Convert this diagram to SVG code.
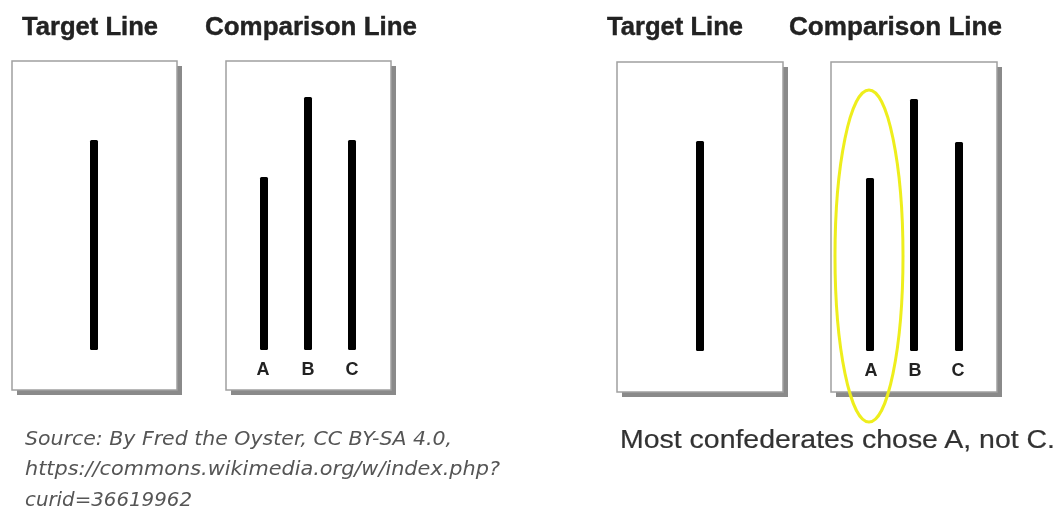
<svg xmlns="http://www.w3.org/2000/svg" width="1060" height="512" viewBox="0 0 1060 512">
  <style>
    .title { font-family: "Liberation Sans", Arial, sans-serif; font-weight: bold; font-size: 25px; fill: #222; stroke: #222; stroke-width: 0.4; }
    .lbl { font-family: "Liberation Sans", Arial, sans-serif; font-weight: bold; font-size: 18px; fill: #222; text-anchor: middle; }
    .src { font-family: "DejaVu Sans", Verdana, sans-serif; font-style: italic; font-size: 19px; fill: #555; }
    .cap { font-family: "Liberation Sans", Arial, sans-serif; font-size: 25px; fill: #333; stroke: #333; stroke-width: 0.2; }
    .card { fill: #fff; stroke: #a0a0a0; stroke-width: 1.5; }
    .shadow { fill: #8a8a8a; }
    .bar { fill: #000; }
    .ring { fill: none; stroke: #eeee1e; stroke-width: 3; }
  </style>
  <defs>
    <filter id="soft" x="-5%" y="-5%" width="110%" height="110%">
      <feGaussianBlur stdDeviation="0.6"/>
    </filter>
  </defs>
  <rect width="1060" height="512" fill="#fff"/>

  <!-- left panel -->
  <g id="left-target" filter="url(#soft)">
    <text class="title" x="22" y="35" textLength="136" lengthAdjust="spacingAndGlyphs">Target Line</text>
    <rect class="shadow" x="17" y="66" width="165" height="329"/>
    <rect class="card" x="12" y="61" width="165" height="329"/>
    <rect class="bar" x="90" y="140" width="8" height="210" rx="1.5"/>
  </g>
  <g id="left-comparison" filter="url(#soft)">
    <text class="title" x="205" y="35" textLength="212" lengthAdjust="spacingAndGlyphs">Comparison Line</text>
    <rect class="shadow" x="231" y="66" width="165" height="329"/>
    <rect class="card" x="226" y="61" width="165" height="329"/>
    <rect class="bar" x="260" y="177" width="8" height="173" rx="1.5"/>
    <rect class="bar" x="304" y="97" width="8" height="253" rx="1.5"/>
    <rect class="bar" x="348" y="140" width="8" height="210" rx="1.5"/>
    <text class="lbl" x="263" y="375">A</text>
    <text class="lbl" x="308" y="375">B</text>
    <text class="lbl" x="352" y="375">C</text>
  </g>
  <g id="source" filter="url(#soft)">
    <text class="src" x="25" y="445" textLength="427" lengthAdjust="spacingAndGlyphs">Source: By Fred the Oyster, CC BY-SA 4.0,</text>
    <text class="src" x="25" y="475" textLength="475" lengthAdjust="spacingAndGlyphs">https://commons.wikimedia.org/w/index.php?</text>
    <text class="src" x="25" y="506" textLength="167" lengthAdjust="spacingAndGlyphs">curid=36619962</text>
  </g>

  <!-- right panel -->
  <g id="right-target" filter="url(#soft)">
    <text class="title" x="607" y="35" textLength="136" lengthAdjust="spacingAndGlyphs">Target Line</text>
    <rect class="shadow" x="622" y="67" width="166" height="330"/>
    <rect class="card" x="617" y="62" width="166" height="330"/>
    <rect class="bar" x="696" y="141" width="8" height="210" rx="1.5"/>
  </g>
  <g id="right-comparison" filter="url(#soft)">
    <text class="title" x="789" y="35" textLength="213" lengthAdjust="spacingAndGlyphs">Comparison Line</text>
    <rect class="shadow" x="836" y="67" width="166" height="330"/>
    <rect class="card" x="831" y="62" width="166" height="330"/>
    <rect class="bar" x="866" y="178" width="8" height="173" rx="1.5"/>
    <rect class="bar" x="910" y="99" width="8" height="252" rx="1.5"/>
    <rect class="bar" x="955" y="142" width="8" height="209" rx="1.5"/>
    <text class="lbl" x="871" y="376">A</text>
    <text class="lbl" x="915" y="376">B</text>
    <text class="lbl" x="958" y="376">C</text>
  </g>
  <g id="highlight" filter="url(#soft)">
    <ellipse class="ring" cx="869" cy="256" rx="34" ry="166"/>
  </g>
  <g id="caption" filter="url(#soft)">
    <text class="cap" x="620" y="448" textLength="435" lengthAdjust="spacingAndGlyphs">Most confederates chose A, not C.</text>
  </g>
</svg>
